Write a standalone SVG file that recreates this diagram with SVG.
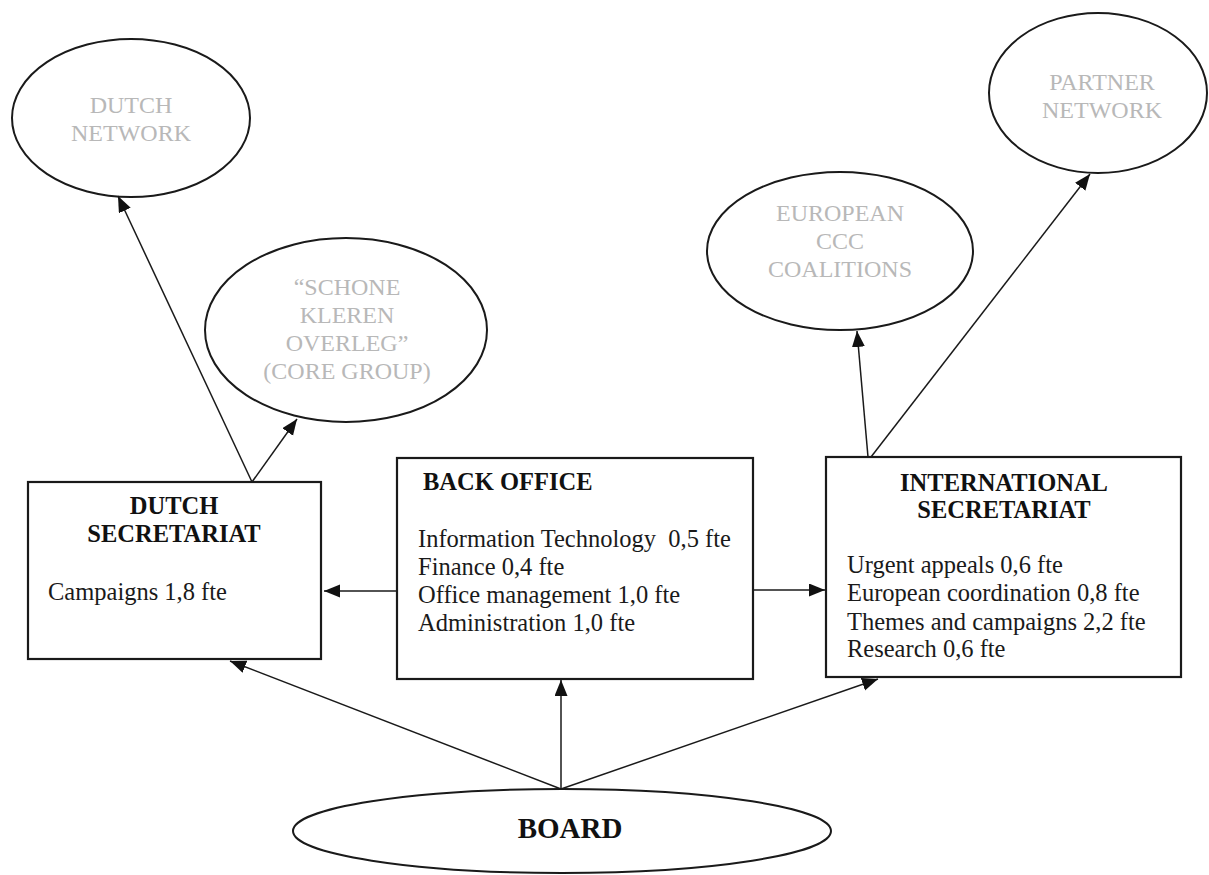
<svg xmlns="http://www.w3.org/2000/svg" width="1209" height="875" viewBox="0 0 1209 875">
<style>
.bg{fill:#ffffff}
.box{fill:#ffffff;stroke:#1a1a1a;stroke-width:2.2}
.ell{fill:#ffffff;stroke:#1a1a1a;stroke-width:2}
.gray{font-family:"Liberation Serif","Times New Roman",serif;font-size:24px;fill:#b8b8b8;text-anchor:middle}
.head{font-family:"Liberation Serif","Times New Roman",serif;font-size:24.5px;font-weight:bold;fill:#111111}
.body{font-family:"Liberation Serif","Times New Roman",serif;font-size:24.5px;fill:#1a1a1a}
.mid{text-anchor:middle}
.conn{stroke:#1a1a1a;stroke-width:1.5;fill:none;marker-end:url(#ah)}
</style>
<defs>
<marker id="ah" markerUnits="userSpaceOnUse" markerWidth="18" markerHeight="14" refX="16" refY="6.5" orient="auto">
<path d="M0,0 L16,6.5 L0,13 Z" fill="#111111"/>
</marker>
</defs>
<rect class="bg" x="0" y="0" width="1209" height="875"/>

<g id="dutch-network">
<ellipse class="ell" cx="131" cy="118" rx="119" ry="79"/>
<text class="gray" x="131" y="113">DUTCH</text>
<text class="gray" x="131" y="141">NETWORK</text>
</g>

<g id="schone-kleren">
<ellipse class="ell" cx="346" cy="330" rx="141" ry="92"/>
<text class="gray" x="347" y="295">“SCHONE</text>
<text class="gray" x="347" y="323">KLEREN</text>
<text class="gray" x="347" y="351">OVERLEG”</text>
<text class="gray" x="347" y="379">(CORE GROUP)</text>
</g>

<g id="european-ccc">
<ellipse class="ell" cx="840" cy="251" rx="133" ry="79"/>
<text class="gray" x="840" y="221">EUROPEAN</text>
<text class="gray" x="840" y="249">CCC</text>
<text class="gray" x="840" y="277">COALITIONS</text>
</g>

<g id="partner-network">
<ellipse class="ell" cx="1098" cy="93" rx="109" ry="80"/>
<text class="gray" x="1102" y="90">PARTNER</text>
<text class="gray" x="1102" y="118">NETWORK</text>
</g>

<g id="dutch-secretariat">
<rect class="box" x="28" y="482" width="293" height="177"/>
<text class="head mid" x="174" y="514">DUTCH</text>
<text class="head mid" x="174" y="542">SECRETARIAT</text>
<text class="body" x="48" y="600">Campaigns 1,8 fte</text>
</g>

<g id="back-office">
<rect class="box" x="397" y="458" width="356" height="221"/>
<text class="head" x="423" y="490">BACK OFFICE</text>
<text class="body" x="418" y="547" xml:space="preserve">Information Technology  0,5 fte</text>
<text class="body" x="418" y="575">Finance 0,4 fte</text>
<text class="body" x="418" y="603">Office management 1,0 fte</text>
<text class="body" x="418" y="631">Administration 1,0 fte</text>
</g>

<g id="international-secretariat">
<rect class="box" x="826" y="457" width="355" height="220"/>
<text class="head mid" x="1004" y="491">INTERNATIONAL</text>
<text class="head mid" x="1004" y="518">SECRETARIAT</text>
<text class="body" x="847" y="573">Urgent appeals 0,6 fte</text>
<text class="body" x="847" y="601">European coordination 0,8 fte</text>
<text class="body" x="847" y="630">Themes and campaigns 2,2 fte</text>
<text class="body" x="847" y="657">Research 0,6 fte</text>
</g>

<g id="board">
<ellipse class="ell" cx="562" cy="831" rx="269" ry="42"/>
<text class="head mid" x="570" y="838" style="font-size:29px">BOARD</text>
</g>

<g id="connectors">
<line class="conn" x1="252" y1="482" x2="118" y2="196"/>
<line class="conn" x1="252" y1="482" x2="297" y2="419"/>
<line class="conn" x1="397" y1="591" x2="324" y2="591"/>
<line class="conn" x1="753" y1="590" x2="825" y2="590"/>
<line class="conn" x1="868" y1="457" x2="857" y2="331"/>
<line class="conn" x1="871" y1="457" x2="1090" y2="174"/>
<line class="conn" x1="561" y1="789" x2="230" y2="661"/>
<line class="conn" x1="561" y1="789" x2="561" y2="680"/>
<line class="conn" x1="561" y1="789" x2="878" y2="679"/>
</g>
</svg>
